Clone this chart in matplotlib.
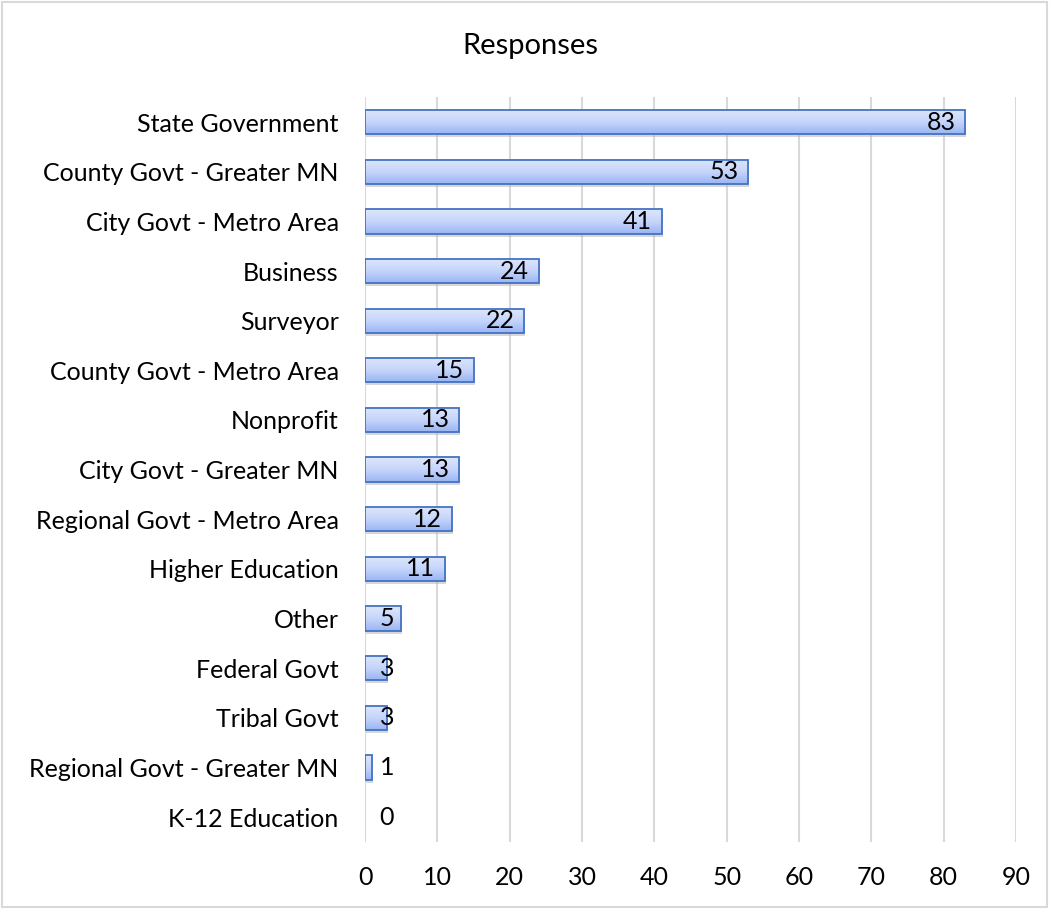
import matplotlib.pyplot as plt
import numpy as np
from matplotlib.colors import LinearSegmentedColormap
from matplotlib.patches import Rectangle

categories = [
    "State Government", "County Govt - Greater MN", "City Govt - Metro Area",
    "Business", "Surveyor", "County Govt - Metro Area", "Nonprofit",
    "City Govt - Greater MN", "Regional Govt - Metro Area", "Higher Education",
    "Other", "Federal Govt", "Tribal Govt", "Regional Govt - Greater MN",
    "K-12 Education",
]
responses = [83, 53, 41, 24, 22, 15, 13, 13, 12, 11, 5, 3, 3, 1, 0]
x_ticks = list(range(0, 100, 10))

plt.rcParams["font.family"] = ["Lato", "DejaVu Sans"]

fig = plt.figure(figsize=(10.49, 9.09), dpi=100)
fig.patches.append(Rectangle((0.002, 0.002), 0.996, 0.996, transform=fig.transFigure,
                             fill=False, edgecolor="#d9d9d9", linewidth=1.5))
ax = fig.add_axes([0.348, 0.0737, 0.6205, 0.8193])

y = np.arange(len(categories))
bars = ax.barh(y, responses, height=0.49, color="none", edgecolor="#4472c4",
               linewidth=1.3, zorder=3)

grad = LinearSegmentedColormap.from_list("g", ["#dde6fc", "#c6d5fa", "#9ab5f4"])
for b in bars:
    x0, y0 = b.get_x(), b.get_y()
    w, h = b.get_width(), b.get_height()
    if w <= 0:
        b.set_linewidth(0)
        continue
    # sombra
    ax.add_patch(Rectangle((x0 + 0.15, y0 + 0.06), w, h, color="#b0b0b0", alpha=0.5,
                           zorder=1, linewidth=0))
    im = ax.imshow(np.linspace(0, 1, 64).reshape(-1, 1), cmap=grad, aspect="auto",
                   extent=(x0, x0 + w, y0 + h, y0), zorder=2, interpolation="bilinear")
    im.set_clip_path(b)

for yi, v in zip(y, responses):
    ax.text(max(v - 1.3, 4.0), yi, str(v), ha="right", va="center",
            fontsize=18, color="#000000", zorder=4)

ax.set_xlim(0, 90)
ax.set_ylim(len(categories) - 0.5, -0.5)
ax.set_xticks(x_ticks)
ax.set_yticks(y)
ax.set_yticklabels(categories)
ax.xaxis.grid(True, color="#d9d9d9", linewidth=1.5, zorder=0)
ax.set_axisbelow(True)
for s in ax.spines.values():
    s.set_visible(False)
ax.tick_params(axis="both", length=0, labelsize=18, colors="#000000")
ax.tick_params(axis="y", pad=19)
ax.tick_params(axis="x", pad=17)
fig.text(0.506, 0.949, "Responses", ha="center", va="center", fontsize=21)

fig.savefig("out.png", dpi=100)
